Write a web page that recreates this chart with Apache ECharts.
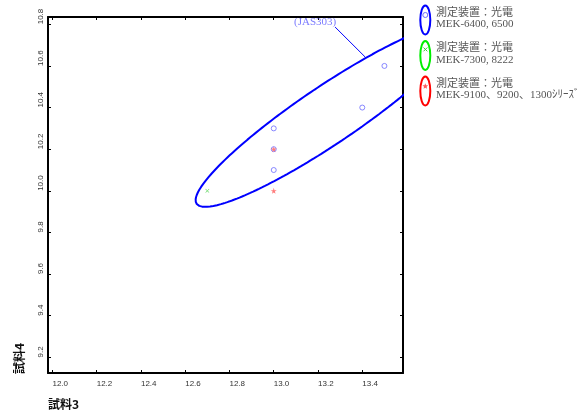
<!DOCTYPE html>
<html><head><meta charset="utf-8">
<script src="https://cdn.jsdelivr.net/npm/echarts@6/dist/echarts.min.js"></script>
<style>html,body{margin:0;padding:0;background:#fff}#c{width:588px;height:419px}</style>
</head><body><div id="c"></div>
<script>
// ---- data ----
const mek6400 = [[13.0, 10.3], [13.0, 10.2], [13.0, 10.1], [13.4, 10.4], [13.5, 10.6]];
const mek7300 = [[12.7, 10.0]];
const mek9100 = [[13.0, 10.2], [13.0, 10.0]];
const ellipseCenter = [13.246, 10.364];
const ellipseAxisU = [0.599, 0.409];
const ellipseAxisV = [0, 0.165];
const jasLabel = '(JAS303)';
const leaderLine = [[13.413, 10.643], [13.277, 10.787]];
const jasLabelPos = [13.187, 10.81];
const xRange = [11.98, 13.584];
const yRange = [9.125, 10.835];
const legendTitles = ['測定装置：光電', '測定装置：光電', '測定装置：光電'];
const legendModels = ['MEK-6400, 6500', 'MEK-7300, 8222', 'MEK-9100、9200、1300ｼﾘｰｽﾞ'];
const xName = '試料3';
const yName = '試料4';

// ---- shapes ----
const ellipsePts = [];
for (let i = 0; i <= 240; i++) {
  const t = 2 * Math.PI * i / 240, c = Math.cos(t), s = Math.sin(t);
  ellipsePts.push([ellipseCenter[0] + ellipseAxisU[0] * c + ellipseAxisV[0] * s,
                   ellipseCenter[1] + ellipseAxisU[1] * c + ellipseAxisV[1] * s]);
}
const STAR = 'path://M50,0 L61,35 L98,35 L68,57 L79,91 L50,70 L21,91 L32,57 L2,35 L39,35 Z';
const CROSS = 'path://M0,1 L1,0 L5,4 L9,0 L10,1 L6,5 L10,9 L9,10 L5,6 L1,10 L0,9 L4,5 Z';
function starPts(cx, cy, r) {
  const p = [];
  for (let i = 0; i < 10; i++) {
    const a = -Math.PI / 2 + i * Math.PI / 5, rr = i % 2 ? r * 0.45 : r;
    p.push([cx + rr * Math.cos(a), cy + rr * Math.sin(a)]);
  }
  return p;
}

const BLUE = '#0000ff', MBLUE = '#6a6aff', MGREEN = '#33cc33', MRED = '#ff5a5a';
const serif = '"Liberation Serif", "Noto Sans CJK JP", serif';
const legendColors = [BLUE, '#00ee00', '#ff0000'];
const legendCy = [20, 55.5, 91];
const graphics = [];
legendCy.forEach((cy, i) => {
  graphics.push({type: 'ellipse', shape: {cx: 425.3, cy: cy, rx: 5, ry: 14.5},
    style: {fill: 'none', stroke: legendColors[i], lineWidth: 2}});
  graphics.push({type: 'text', left: 436, top: cy - 13,
    style: {text: legendTitles[i] + '\n' + legendModels[i], fill: '#555', font: '11px ' + serif, lineHeight: 11.5}});
});
graphics.push({type: 'circle', shape: {cx: 425.3, cy: 15, r: 2.5}, style: {fill: 'none', stroke: MBLUE, lineWidth: 1}});
graphics.push({type: 'polyline', shape: {points: [[423.5, 47.5], [427.3, 51.3]]}, style: {stroke: MGREEN, lineWidth: 1}});
graphics.push({type: 'polyline', shape: {points: [[427.3, 47.5], [423.5, 51.3]]}, style: {stroke: MGREEN, lineWidth: 1}});
graphics.push({type: 'polygon', shape: {points: starPts(425.3, 86.3, 3)}, style: {fill: MRED}});
graphics.push({type: 'text', left: 48, top: 398, style: {text: xName, fill: '#111', font: 'bold 12px "Noto Sans CJK JP"'}});
graphics.push({type: 'text', x: 13, y: 374, rotation: Math.PI / 2,
  style: {text: yName, fill: '#111', font: 'bold 12px "Noto Sans CJK JP"'}});

const axisCommon = {
  axisLine: {lineStyle: {color: '#000', width: 2}},
  axisTick: {inside: true, length: 3, lineStyle: {color: '#000', width: 1}},
  splitLine: {show: false}
};

const chart = echarts.init(document.getElementById('c'));
chart.setOption({
  animation: false,
  backgroundColor: '#fff',
  grid: {left: 48, right: 185, top: 17, bottom: 46},
  xAxis: [
    Object.assign({type: 'value', position: 'bottom', min: xRange[0], max: xRange[1], splitNumber: 8,
      axisLabel: {fontSize: 8, color: '#333', margin: 7, align: 'left', showMinLabel: false, showMaxLabel: false,
        fontFamily: '"Liberation Sans", sans-serif', formatter: v => v.toFixed(1)}}, axisCommon),
    Object.assign({type: 'value', position: 'top', min: xRange[0], max: xRange[1], splitNumber: 8,
      axisLabel: {show: false}}, axisCommon)
  ],
  yAxis: [
    Object.assign({type: 'value', position: 'left', min: yRange[0], max: yRange[1], splitNumber: 8,
      axisLabel: {fontSize: 8, color: '#333', margin: 3, rotate: 90, align: 'left', verticalAlign: 'bottom',
        showMinLabel: false, showMaxLabel: false,
        fontFamily: '"Liberation Sans", sans-serif', formatter: v => v.toFixed(1)}}, axisCommon),
    Object.assign({type: 'value', position: 'right', min: yRange[0], max: yRange[1], splitNumber: 8,
      axisLabel: {show: false}}, axisCommon)
  ],
  graphic: graphics,
  series: [
    {type: 'line', data: ellipsePts, showSymbol: false, symbol: 'none', clip: true,
      lineStyle: {color: BLUE, width: 2}, z: 2},
    {type: 'line', data: leaderLine, showSymbol: false, symbol: 'none',
      lineStyle: {color: BLUE, width: 1}, z: 2},
    {type: 'scatter', data: [jasLabelPos], symbolSize: 0,
      label: {show: true, position: 'inside', formatter: jasLabel, color: '#5a5aff', fontSize: 11, fontFamily: serif}, z: 3},
    {type: 'scatter', data: mek6400, symbol: 'circle', symbolSize: 5,
      itemStyle: {color: 'rgba(0,0,0,0)', borderColor: MBLUE, borderWidth: 1}, z: 4},
    {type: 'scatter', data: mek7300, symbol: CROSS, symbolSize: 4,
      itemStyle: {color: MGREEN}, z: 5},
    {type: 'scatter', data: mek9100, symbol: STAR, symbolSize: 6,
      itemStyle: {color: MRED}, z: 5}
  ]
});
</script>
</body></html>
